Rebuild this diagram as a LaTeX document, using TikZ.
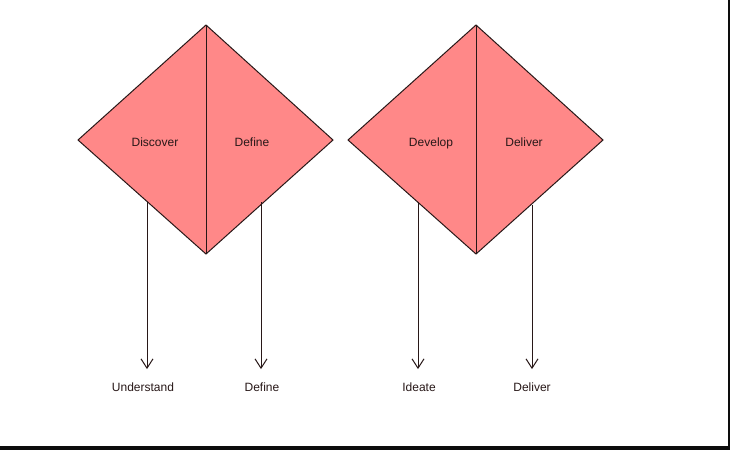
\documentclass[tikz,border=0pt]{standalone}
\usepackage{fontspec}
\setmainfont{Liberation Sans}
\usetikzlibrary{arrows.meta}
\definecolor{diamondfill}{RGB}{255,136,136}
\definecolor{inkline}{RGB}{40,24,24}
\tikzset{every picture/.style={line width=0.75pt}}
\tikzset{
  halfdiamond/.style={draw=inkline, fill=diamondfill, line width=0.75pt},
  phaselabel/.style={inner sep=0.75pt, text=inkline, font=\fontsize{9}{11}\selectfont},
  steplabel/.style={inner sep=0.75pt, text=inkline, font=\fontsize{9}{11}\selectfont},
  downarrow/.style={draw=inkline, line width=0.75pt, -{Straight Barb[length=7pt,width=9pt]}}
}
\begin{document}
\begin{tikzpicture}[x=0.75pt,y=0.75pt,yscale=-1,xscale=1]
\useasboundingbox (0,0) rectangle (730,450);
%Shape: Rectangle (background and frame shadow)
\fill [white] (0,0) rectangle (730,450);
\fill [black!95] (728,0) rectangle (730,450);
\fill [black!95] (0,446) rectangle (730,450);

%Shape: Diamond [first]
\draw [halfdiamond] (78,140) -- (206,25) -- (333,140) -- (206,254) -- cycle ;
\draw [inkline] (206,25) -- (206,254) ;
%Shape: Diamond [second]
\draw [halfdiamond] (348,140) -- (476,25) -- (603,140) -- (476,254) -- cycle ;
\draw [inkline] (476,25) -- (476,254) ;

% Text Node
\node [phaselabel] (discover) at (155,142) {Discover};
\node [phaselabel] (define) at (252,142) {Define};
\node [phaselabel] (develop) at (431,143) {Develop};
\node [phaselabel] (deliver) at (524,142) {Deliver};

% Text Node
\node [steplabel] (understand) at (143,387) {Understand};
\node [steplabel] (defineout) at (262,387) {Define};
\node [steplabel] (ideate) at (419,387) {Ideate};
\node [steplabel] (deliverout) at (532,387) {Deliver};

% arrow starts on the lower edges
\coordinate (s1) at (147,202);
\coordinate (s2) at (261,202);
\coordinate (s3) at (418,202);
\coordinate (s4) at (532,205);

%Straight Lines
\draw [downarrow] (s1) -- ([yshift=-9pt]s1 |- understand.north) ;
\draw [downarrow] (s2) -- ([yshift=-9pt]s2 |- defineout.north) ;
\draw [downarrow] (s3) -- ([yshift=-9pt]s3 |- ideate.north) ;
\draw [downarrow] (s4) -- ([yshift=-9pt]s4 |- deliverout.north) ;

\end{tikzpicture}
\end{document}
